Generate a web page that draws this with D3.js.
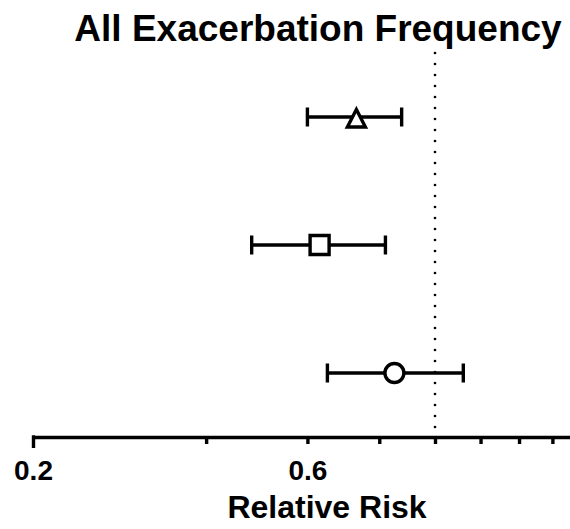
<!DOCTYPE html>
<html>
<head>
<meta charset="utf-8">
<script src="https://cdn.jsdelivr.net/npm/d3@7"></script>
<style>
  html, body { margin: 0; padding: 0; background: #fff; }
  svg text { font-family: "Liberation Sans", Arial, sans-serif; font-weight: bold; fill: #000; }
</style>
</head>
<body>
<svg id="chart" width="570" height="529"></svg>
<script>
// Relative risk estimates with 95% confidence intervals
const groups = ["Group A", "Group B", "Group C"];
const markers = ["triangle", "square", "circle"];
const rr = [0.73, 0.63, 0.85];
const lower = [0.60, 0.48, 0.65];
const upper = [0.875, 0.82, 1.12];
const tickValues = [0.2, 0.4, 0.6, 0.8, 1.0, 1.2, 1.4, 1.6];
const labelledTicks = [0.2, 0.6];
const reference = 1.0;

const svg = d3.select("#chart");

const xMin = 0.2, xMax = 1.73;
const x0 = 33, xRef = 435;
const x = d3.scaleLog()
  .domain([xMin, xMax])
  .range([x0, x0 + (xRef - x0) * Math.log(xMax / xMin) / Math.log(reference / xMin)]);

// rows: first group at top
const y = d3.scaleLinear().domain([0.5, 3.5]).range([437, 53]);
const rowY = i => y(groups.length - i);

const sw = 3.4;

// title
svg.append("text")
  .attr("x", 318).attr("y", 41)
  .attr("text-anchor", "middle")
  .style("font-size", "37px")
  .text("All Exacerbation Frequency");

// reference line at RR = 1
svg.append("line")
  .attr("x1", x(reference)).attr("x2", x(reference))
  .attr("y1", y(3.5)).attr("y2", y(0.5))
  .attr("stroke", "#000")
  .attr("stroke-width", 2.7)
  .attr("stroke-linecap", "round")
  .attr("stroke-dasharray", "0,11");

// x axis
const axis = d3.axisBottom(x)
  .tickValues(tickValues)
  .tickSize(7)
  .tickSizeOuter(0)
  .tickPadding(14)
  .tickFormat(d => labelledTicks.some(v => Math.abs(v - d) < 1e-9) ? d3.format(".1f")(d) : "");

const gx = svg.append("g")
  .attr("transform", `translate(0,${y(0.5)})`)
  .call(axis);
gx.select(".domain").attr("stroke", "#000").attr("stroke-width", sw);
gx.selectAll(".tick line").attr("stroke", "#000").attr("stroke-width", sw);
gx.selectAll(".tick")
  .filter(d => d === xMin)
  .select("line").attr("y1", -1.7).attr("y2", 11);
gx.selectAll(".tick text")
  .style("font-size", "28px")
  .style("font-family", "'Liberation Sans', Arial, sans-serif")
  .style("font-weight", "bold")
  .attr("dy", null)
  .attr("y", 43);

// axis title
svg.append("text")
  .attr("x", 327).attr("y", 518)
  .attr("text-anchor", "middle")
  .style("font-size", "32px")
  .text("Relative Risk");

// confidence intervals
const rows = svg.append("g").selectAll("g")
  .data(groups.map((g, i) => ({ g, i, m: markers[i], v: rr[i], lo: lower[i], hi: upper[i] })))
  .join("g")
  .attr("transform", d => `translate(0,${rowY(d.i)})`);

rows.append("line")
  .attr("x1", d => x(d.lo)).attr("x2", d => x(d.hi))
  .attr("y1", 0).attr("y2", 0)
  .attr("stroke", "#000").attr("stroke-width", sw);

rows.selectAll(".cap")
  .data(d => [d.lo, d.hi])
  .join("line")
  .attr("class", "cap")
  .attr("x1", v => x(v)).attr("x2", v => x(v))
  .attr("y1", -9.5).attr("y2", 9.5)
  .attr("stroke", "#000").attr("stroke-width", sw);

// point estimate markers
const markerPath = {
  triangle: "M0,-7.5L9,10L-9,10Z",
  square: "M-9.5,-9.5H9.5V9.5H-9.5Z",
  circle: d3.symbol(d3.symbolCircle, Math.PI * 9.5 * 9.5)()
};

rows.append("path")
  .attr("transform", d => `translate(${x(d.v)},0)`)
  .attr("d", d => markerPath[d.m])
  .attr("fill", "#fff")
  .attr("stroke", "#000")
  .attr("stroke-width", sw)
  .attr("stroke-linejoin", "miter");
</script>
</body>
</html>
